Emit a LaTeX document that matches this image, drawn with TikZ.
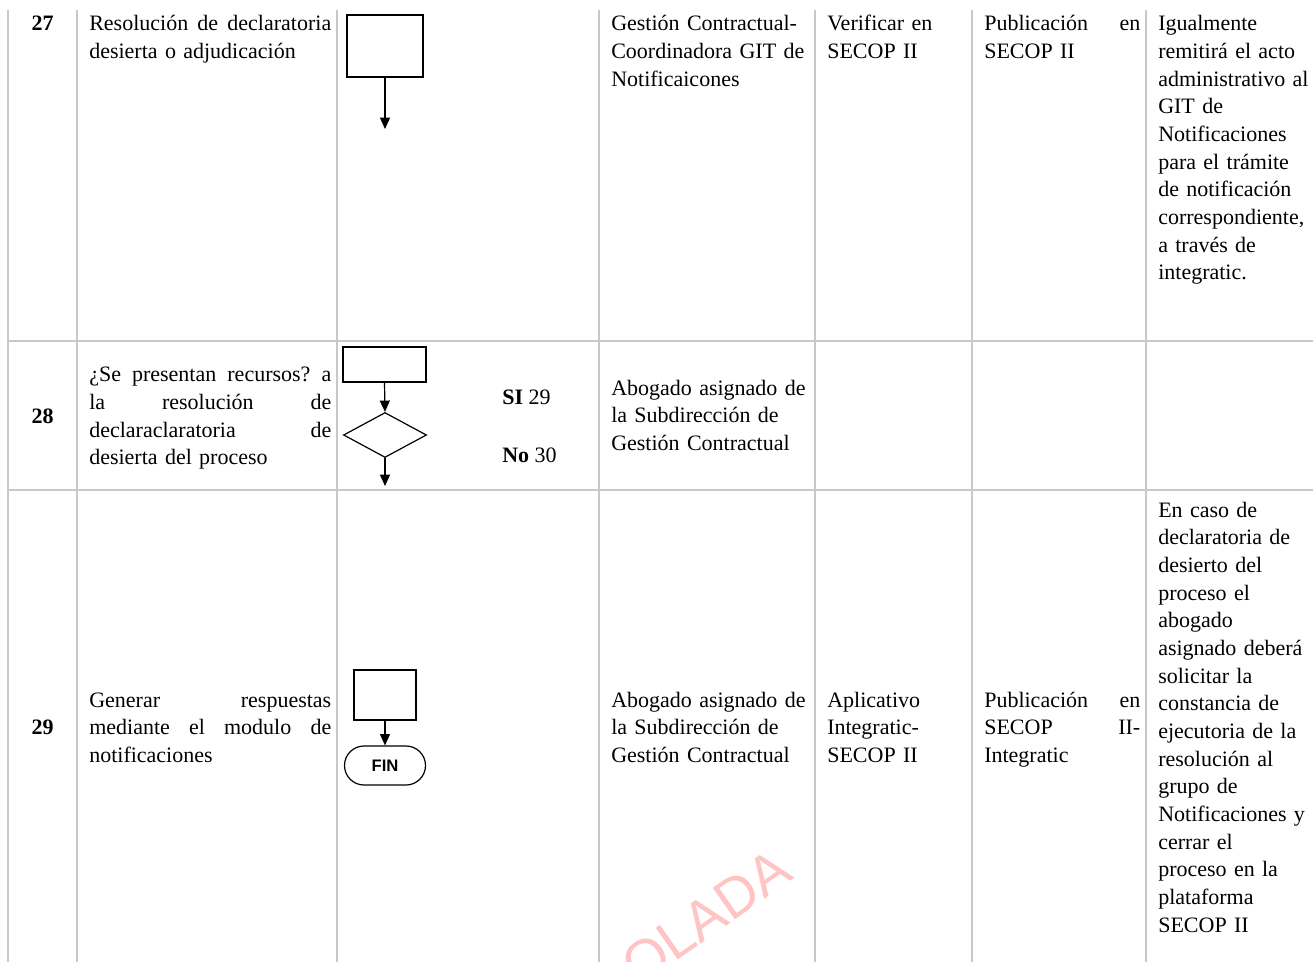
\documentclass[tikz,border=0pt]{standalone}
\usepackage{fontspec}
\setmainfont{Liberation Serif}
\setsansfont{Liberation Sans}
\usetikzlibrary{arrows.meta,shapes.geometric,shapes.misc}

\begin{document}
\begin{tikzpicture}[x=0.75pt,y=0.75pt,yscale=-1,xscale=1,
  rule/.style={draw={rgb, 255:red, 200; green, 200; blue, 200}, line width=1.5},
  celltext/.style={anchor=base west, inner sep=0, align=left, font=\fontsize{16.5}{20.75}\selectfont},
  stepnum/.style={anchor=base, inner sep=0, font=\fontsize{16.5}{20.75}\selectfont\bfseries},
  procbox/.style={draw, line width=1, inner sep=0},
  decbox/.style={draw, diamond, line width=0.9, inner sep=0, minimum width=62.25, minimum height=33.75},
  endbox/.style={draw, rounded rectangle, line width=0.9, inner sep=0, minimum width=60.75, minimum height=29.25, font=\sffamily\bfseries\fontsize{12.5}{14}\selectfont},
  flow/.style={line width=0.9, -{Triangle[length=8.5,width=7.5]}}
]
\useasboundingbox (0,0) rectangle (1313,962);
\clip (0,0) rectangle (1313,962);

%Straight Lines: table rules
\draw [rule] (8,10) -- (8,962) ;
\draw [rule] (77,10) -- (77,962) ;
\draw [rule] (337,10) -- (337,962) ;
\draw [rule] (599,10) -- (599,962) ;
\draw [rule] (815,10) -- (815,962) ;
\draw [rule] (972,10) -- (972,962) ;
\draw [rule] (1146,10) -- (1146,962) ;
\draw [rule] (8,341) -- (1313,341) ;
\draw [rule] (8,490) -- (1313,490) ;

%Watermark
\node [anchor=base east, inner sep=0, rotate=35, text={rgb, 255:red, 255; green, 196; blue, 196}, font=\sffamily\fontsize{42}{50}\selectfont] (mark) at (795,878) {OLADA};

%Row 27
\node [stepnum] (n27) at (42.5,31) {27};
\node [celltext, text width=181.5] (act27) at (89,31) {Resolución\hfill de\hfill declaratoria\\desierta o adjudicación};
\node [procbox, line width=1.5, minimum width=57, minimum height=46.5] (box27) at (385,46) {};
\coordinate (tip27) at (385,129);
\draw [flow] (box27.south) -- (tip27) ;
\node [celltext, text width=165] (resp27) at (611,31) {Gestión Contractual-\\Coordinadora GIT de\\Notificaicones};
\node [celltext, text width=112] (doc27) at (827,31) {Verificar en\\SECOP II};
\node [celltext, text width=117] (reg27) at (984,31) {Publicación\hfill en\\SECOP II};
\node [celltext, text width=120] (obs27) at (1158,31) {Igualmente\\remitirá el acto\\administrativo al\\GIT de\\Notificaciones\\para el trámite\\de notificación\\correspondiente,\\a través de\\integratic.};

%Row 28
\node [stepnum] (n28) at (42.5,423) {28};
\node [celltext, text width=181.5] (act28) at (89,382) {¿Se\hfill presentan\hfill recursos?\hfill a\\la\hfill resolución\hfill de\\declaraclaratoria\hfill de\\desierta del proceso};
\node [procbox, minimum width=62.25, minimum height=26.25] (box28) at (384.5,364.5) {};
\node [decbox] (dec28) at (385,435) {};
\coordinate (tip28) at (385,486);
\draw [flow] (box28.south) -- (dec28.north) ;
\draw [flow] (dec28.south) -- (tip28) ;
\node [celltext] (yes28) at (502,404) {\textbf{SI} 29};
\node [celltext] (no28) at (502,462) {\textbf{No} 30};
\node [celltext, text width=165] (resp28) at (611,395) {Abogado asignado de\\la Subdirección de\\Gestión Contractual};

%Row 29
\node [stepnum] (n29) at (42.5,734) {29};
\node [celltext, text width=181.5] (act29) at (89,707) {Generar\hfill respuestas\\mediante\hfill el\hfill modulo\hfill de\\notificaciones};
\node [procbox, minimum width=46.5, minimum height=37.5] (box29) at (385,695) {};
\node [endbox] (fin29) at (385,765.5) {FIN};
\draw [flow] (box29.south) -- (fin29.north) ;
\node [celltext, text width=165] (resp29) at (611,707) {Abogado asignado de\\la Subdirección de\\Gestión Contractual};
\node [celltext, text width=112] (doc29) at (827,707) {Aplicativo\\Integratic-\\SECOP II};
\node [celltext, text width=117] (reg29) at (984,707) {Publicación\hfill en\\SECOP\hfill II-\\Integratic};
\node [celltext, text width=120] (obs29) at (1158,517) {En caso de\\declaratoria de\\desierto del\\proceso el\\abogado\\asignado deberá\\solicitar la\\constancia de\\ejecutoria de la\\resolución al\\grupo de\\Notificaciones y\\cerrar el\\proceso en la\\plataforma\\SECOP II};

\end{tikzpicture}
\end{document}
